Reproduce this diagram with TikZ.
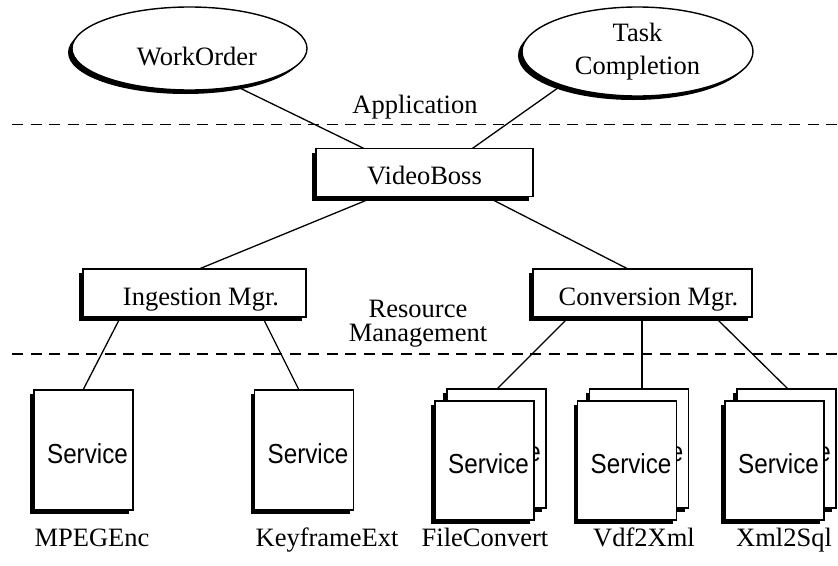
\documentclass[tikz,border=0pt]{standalone}
\usepackage{fontspec}
\setmainfont{Liberation Serif}
\newfontfamily\svcfont[FakeStretch=0.88]{Liberation Sans}
\usetikzlibrary{shapes.geometric,shadows,calc,backgrounds}
\begin{document}
\begin{tikzpicture}[x=1pt,y=-1pt,
  every node/.style={font=\fontsize{26.5}{31}\selectfont},
  shadowed/.style={drop shadow={shadow xshift=-4pt,shadow yshift=-4pt,opacity=1,fill=black}},
  nudge/.style={execute at begin node={\hspace*{#1}}},
  goal/.style={ellipse,draw,fill=white,line width=1.4pt,inner sep=0pt,shadowed},
  mgr/.style={rectangle,draw,fill=white,line width=1.2pt,inner sep=0pt,
    minimum height=48pt,text height=28pt,text depth=4pt,shadowed},
  svc/.style={rectangle,draw,fill=white,line width=1.1pt,inner sep=0pt,
    minimum width=99pt,minimum height=119pt,text height=30pt,text depth=4pt,
    font=\svcfont\fontsize{27.5}{31}\selectfont,nudge=8pt,shadowed},
  link/.style={line width=1.3pt},
  layer/.style={dash pattern=on 11pt off 7.5pt,line width=1.3pt},
  caption/.style={anchor=base,inner sep=0pt}]
\useasboundingbox (0,0) rectangle (838,565);

% layer separators
\draw[layer] (12,124.5) -- (838,124.5);
\draw[layer] (12,354) -- (838,354);

% layer names
\node[caption] (applbl) at (415,113) {Application};
\node[anchor=north,inner sep=0pt,align=center,font=\fontsize{26.5}{24}\selectfont]
  (reslbl) at (418,299.5) {Resource\\Management};

% application goals
\node[goal,minimum width=235pt,minimum height=83pt,text height=36pt,text depth=3pt,nudge=15pt]
  (wo) at (189.5,48.5) {WorkOrder};
\node[goal,minimum width=231pt,minimum height=89pt,align=center,font=\fontsize{26.5}{33}\selectfont]
  (tc) at (637.5,51.5) {Task\\Completion};

% managers
\node[mgr,minimum width=217pt] (vb) at (424.5,172.5) {VideoBoss};
\node[mgr,minimum width=223pt,nudge=13pt] (ing) at (194.5,293) {Ingestion Mgr.};
\node[mgr,minimum width=219pt,nudge=12pt] (conv) at (642.5,293) {Conversion Mgr.};

% single services
\node[svc,minimum height=120pt] (mpeg) at (83.5,450) {Service};
\node[svc,minimum height=120pt] (key) at (304,450) {Service};

% stacked services: back page first, front page over it
\node[svc] (fileB) at (496.5,448.5) {Service};
\node[svc] (fileF) at (484.5,460.5) {Service};
\node[svc] (vdfB) at (639,448.5) {Service};
\node[svc] (vdfF) at (627,460.5) {Service};
\node[svc] (xmlB) at (786.5,448.5) {Service};
\node[svc] (xmlF) at (774.5,460.5) {Service};

% service names
\node[caption] (mpegname) at (92,546) {MPEGEnc};
\node[caption] (keyname) at (327,546) {KeyframeExt};
\node[caption] (filename) at (485,546) {FileConvert};
\node[caption] (vdfname) at (644,546) {Vdf2Xml};
\node[caption] (xmlname) at (784,546) {Xml2Sql};

% connectors, kept behind the shapes
\begin{scope}[on background layer]
  \draw[link] ($(wo)+(26.6,28)$) -- ($(vb)+(-38.9,-13.5)$);
  \draw[link] ($(tc)+(-57.9,21.1)$) -- ($(vb)+(32.1,-12.9)$);
  \draw[link] ($(vb)+(-38,19.5)$) -- ($(ing)+(-11.8,-17.3)$);
  \draw[link] ($(vb)+(52.9,19.5)$) -- ($(conv)+(-1.4,-17.3)$);
  \draw[link] ($(ing)+(-69.5,15.4)$) -- ($(mpeg)+(-4,-53.2)$);
  \draw[link] ($(ing)+(63.7,15.4)$) -- ($(key)+(-1.6,-53.2)$);
  \draw[link] ($(conv)+(-65.1,15.6)$) -- ($(fileB)+(-6.2,-52.8)$);
  \draw[link] ($(conv)+(-0.5,15)$) -- ($(vdfB)+(3,-53)$);
  \draw[link] ($(conv)+(63.9,15.6)$) -- ($(xmlB)+(8.3,-52.8)$);
\end{scope}
\end{tikzpicture}
\end{document}
